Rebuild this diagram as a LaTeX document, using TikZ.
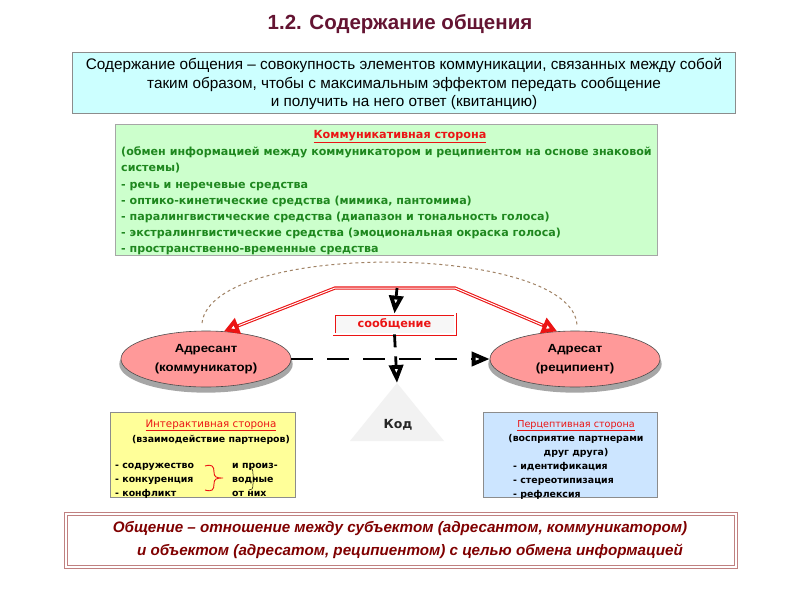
\documentclass[tikz,border=0pt]{standalone}
\usepackage{fontspec}
\setmainfont{Liberation Sans}
\newfontfamily\dv{DejaVu Sans}
\newfontfamily\lsw[FakeStretch=1.12]{Liberation Sans}
\usetikzlibrary{arrows.meta,shadows,shapes.geometric}
\definecolor{titlec}{RGB}{100,20,50}
\definecolor{cyanfill}{RGB}{204,255,255}
\definecolor{greenfill}{RGB}{204,255,204}
\definecolor{greentext}{RGB}{30,135,30}
\definecolor{yelfill}{RGB}{255,255,153}
\definecolor{bluefill}{RGB}{204,229,255}
\definecolor{pinkfill}{RGB}{255,153,153}
\definecolor{arcc}{RGB}{160,130,100}
\definecolor{botborder}{RGB}{192,128,128}
\definecolor{bottext}{RGB}{128,0,0}
\definecolor{redc}{RGB}{235,20,20}
\tikzset{
  box/.style={draw=black!45, line width=0.8pt, inner sep=0pt},
  ell/.style={ellipse, draw=black!70, line width=0.6pt, fill=pinkfill, minimum width=170pt, minimum height=56pt,
    drop shadow={shadow xshift=0pt, shadow yshift=-5pt, shadow scale=1.02, fill=black!35, opacity=1},
    font=\lsw\bfseries\fontsize{11.8}{19}\selectfont, align=center},
  blk/.style={line width=2.8pt, -{Triangle[open, length=18pt, width=14pt, line width=3.8pt]}},
  redarr/.style={draw=redc, line width=3.2pt, -{Triangle[open, length=15pt, width=16pt, line width=4pt]}},
  redin/.style={draw=white, line width=1pt},
  gline/.style={font=\dv\bfseries\fontsize{11.1}{14}\selectfont, text=greentext, anchor=base west, inner sep=0pt},
  smalltxt/.style={font=\dv\bfseries\fontsize{9.4}{14}\selectfont, anchor=base west, inner sep=0pt},
  smallc/.style={font=\dv\bfseries\fontsize{9.4}{14}\selectfont, anchor=base, inner sep=0pt},
  redtitle/.style={font=\dv\fontsize{9.6}{14}\selectfont, text=redc, anchor=base, inner sep=0pt},
  bottxt/.style={font=\bfseries\itshape\fontsize{15.2}{18}\selectfont, text=bottext, anchor=base, inner sep=0pt}
}
\begin{document}
\begin{tikzpicture}[x=1pt,y=-1pt]
\useasboundingbox (0,0) rectangle (800,600);
\fill[white] (0,0) rectangle (800,600);

% title
\node[font=\bfseries\fontsize{20.5}{24}\selectfont, text=titlec, anchor=base] (title) at (400,29) {1.2. Содержание общения};

% top definition box
\node[box, fill=cyanfill, minimum width=663pt, minimum height=61pt] (def) at (403.5,82.5) {};
\node[font=\fontsize{15.3}{18}\selectfont, anchor=base, inner sep=0pt] (d1) at (404,69) {Содержание общения – совокупность элементов коммуникации, связанных между собой};
\node[font=\fontsize{15.3}{18}\selectfont, anchor=base, inner sep=0pt] (d2) at (404,88) {таким образом, чтобы с максимальным эффектом передать сообщение};
\node[font=\fontsize{15.3}{18}\selectfont, anchor=base, inner sep=0pt] (d3) at (404,106.5) {и получить на него ответ (квитанцию)};

% green box
\node[box, draw=black!35, fill=greenfill, minimum width=542pt, minimum height=131pt] (green) at (386,189.5) {};
\node[font=\dv\bfseries\fontsize{11.2}{16}\selectfont, text=redc, inner sep=0pt, anchor=base] (gt) at (400,138) {\underline{Коммуникативная сторона}};
\node[gline] (g1) at (121,155) {(обмен информацией между коммуникатором и реципиентом на основе знаковой};
\node[gline] (g2) at (121,171) {системы)};
\node[gline] (g3) at (121,188) {- речь и неречевые средства};
\node[gline] (g4) at (121,204) {- оптико-кинетические средства (мимика, пантомима)};
\node[gline] (g5) at (121,220) {- паралингвистические средства (диапазон и тональность голоса)};
\node[gline] (g6) at (121,236) {- экстралингвистические средства (эмоциональная окраска голоса)};
\node[gline] (g7) at (121,252) {- пространственно-временные средства};

% dashed arc
\draw[arcc, line width=1pt, dash pattern=on 3pt off 3pt] (202,323) .. controls (212,240) and (572,243) .. (577,325);

% ellipses
\node[ell] (adr) at (206,359) {Адресант\\(коммуникатор)};
\node[ell] (rcp) at (575,359) {Адресат\\(реципиент)};

% message box
\node[draw=redc, double=white, double distance=1.6pt, line width=0.7pt, fill=black!3, minimum width=121pt, minimum height=20pt,
  font=\dv\bfseries\fontsize{11.3}{12}\selectfont, text=redc] (msg) at (394.5,324) {сообщение};

% red double arrows
\coordinate (src) at (397,288);
\coordinate (cl) at (335,288);
\coordinate (cr) at (455,288);
\draw[redarr] (src) -- (cl) -- (adr.57);
\draw[redarr] (src) -- (cr) -- (rcp.123);
\draw[redin, shorten >=16pt] (src) -- (cl) -- (adr.57);
\draw[redin, shorten >=16pt] (src) -- (cr) -- (rcp.123);

% black arrows
\draw[blk] (src) -- (msg.north);
\draw[blk, dash pattern=on 22pt off 14pt] (adr.east) -- (rcp.west);

% code triangle
\coordinate (kodtop) at (397,383);
\fill[black!5] (kodtop) -- (444,441) -- (350,441) -- cycle;
\node[font=\dv\bfseries\fontsize{12.5}{14}\selectfont, text=black!85] (kod) at (398,425) {Код};
\draw[blk, dash pattern=on 13pt off 9pt] (msg.south) -- (kodtop);

% yellow box
\node[box, fill=yelfill, minimum width=185pt, minimum height=85pt] (yel) at (202.5,454.5) {};
\node[redtitle, font=\dv\fontsize{10.3}{14}\selectfont] (yt) at (211,427) {\underline{Интерактивная сторона}};
\node[smallc] (ys) at (211,442) {(взаимодействие партнеров)};
\node[smalltxt] (y1) at (115,468) {- содружество};
\node[smalltxt] (y2) at (115,482) {- конкуренция};
\node[smalltxt] (y3) at (115,496) {- конфликт};
\node[smalltxt] (y4) at (232,468) {и произ-};
\node[smalltxt] (y5) at (232,482) {водные};
\node[smalltxt] (y6) at (232,496) {от них};
\draw[redc, line width=0.9pt] (205,466) .. controls (212,464) and (214,466) .. (214,472) .. controls (214,477) and (216,478) .. (223,478)
  .. controls (216,478) and (214,479) .. (214,484) .. controls (214,490) and (212,492) .. (205,490);
\draw[black, line width=0.5pt] (249,468) .. controls (252,468) and (253,469) .. (253,474) .. controls (253,478) and (254,479) .. (256,479)
  .. controls (254,479) and (253,480) .. (253,484) .. controls (253,489) and (252,490) .. (249,490);

% blue box
\node[box, fill=bluefill, minimum width=174pt, minimum height=85pt] (blu) at (570,454.5) {};
\node[redtitle] (bt) at (576,427) {\underline{Перцептивная сторона}};
\node[smallc] (bs1) at (576,441) {(восприятие партнерами};
\node[smallc] (bs2) at (576,455) {друг друга)};
\node[smalltxt] (b1) at (513,469) {- идентификация};
\node[smalltxt] (b2) at (513,483) {- стереотипизация};
\node[smalltxt] (b3) at (513,497) {- рефлексия};

% bottom box
\node[draw=botborder, double=white, double distance=1.5pt, line width=1pt, fill=white, minimum width=670pt, minimum height=53pt] (bot) at (401,540.5) {};
\node[bottxt] (bl1) at (400,532) {Общение – отношение между субъектом (адресантом, коммуникатором)};
\node[bottxt] (bl2) at (410,555) {и объектом (адресатом, реципиентом) с целью обмена информацией};
\end{tikzpicture}
\end{document}
